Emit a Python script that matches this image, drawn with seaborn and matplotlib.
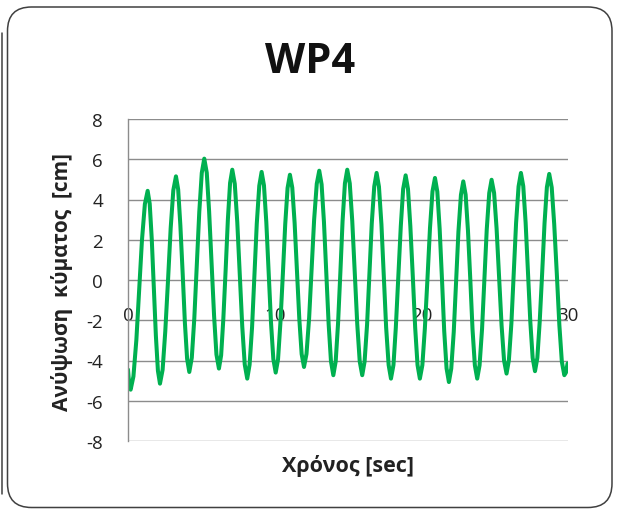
import matplotlib
matplotlib.use("Agg")
import matplotlib.pyplot as plt
from matplotlib.patches import FancyBboxPatch
from matplotlib.lines import Line2D
import seaborn as sns
import pandas as pd

# ---- data ----
time_sec = [
    0.00, 0.06, 0.12, 0.18,
    0.37, 0.57, 0.76, 0.95, 1.15, 1.34,
    1.48, 1.62, 1.76, 1.90, 2.04, 2.18,
    2.36, 2.54, 2.73, 2.91, 3.09, 3.27,
    3.42, 3.57, 3.73, 3.88, 4.03, 4.18,
    4.35, 4.52, 4.69, 4.86, 5.03, 5.20,
    5.37, 5.53, 5.70, 5.87, 6.03, 6.20,
    6.35, 6.50, 6.66, 6.81, 6.96, 7.11,
    7.28, 7.45, 7.62, 7.79, 7.96, 8.13,
    8.29, 8.46, 8.62, 8.78, 8.95, 9.11,
    9.27, 9.43, 9.59, 9.75, 9.91, 10.07,
    10.23, 10.39, 10.56, 10.72, 10.88, 11.04,
    11.20, 11.36, 11.52, 11.68, 11.84, 12.00,
    12.17, 12.35, 12.52, 12.69, 12.87, 13.04,
    13.20, 13.36, 13.52, 13.68, 13.84, 14.00,
    14.16, 14.32, 14.48, 14.63, 14.79, 14.95,
    15.12, 15.29, 15.46, 15.63, 15.80, 15.97,
    16.13, 16.30, 16.46, 16.62, 16.79, 16.95,
    17.11, 17.28, 17.44, 17.60, 17.77, 17.93,
    18.10, 18.26, 18.43, 18.60, 18.76, 18.93,
    19.09, 19.25, 19.42, 19.58, 19.74, 19.90,
    20.07, 20.24, 20.42, 20.59, 20.76, 20.93,
    21.09, 21.25, 21.41, 21.56, 21.72, 21.88,
    22.04, 22.21, 22.37, 22.53, 22.70, 22.86,
    23.02, 23.18, 23.34, 23.49, 23.65, 23.81,
    23.97, 24.14, 24.30, 24.46, 24.63, 24.79,
    24.96, 25.13, 25.30, 25.47, 25.64, 25.81,
    25.97, 26.14, 26.30, 26.46, 26.63, 26.79,
    26.95, 27.11, 27.27, 27.43, 27.59, 27.75,
    27.91, 28.07, 28.24, 28.40, 28.56, 28.72,
    28.89, 29.06, 29.24, 29.41, 29.58, 29.75,
    29.86, 29.97,
]
elevation_cm = [
    -4.45, -5.00, -5.35, -5.45,
    -4.79, -2.98, -0.51, 1.96, 3.77, 4.43,
    3.79, 2.03, -0.36, -2.76, -4.51, -5.15,
    -4.46, -2.57, 0.00, 2.58, 4.46, 5.15,
    4.50, 2.72, 0.29, -2.14, -3.92, -4.57,
    -3.86, -1.92, 0.73, 3.38, 5.32, 6.03,
    5.33, 3.42, 0.81, -1.79, -3.70, -4.40,
    -3.74, -1.93, 0.54, 3.01, 4.82, 5.48,
    4.78, 2.88, 0.29, -2.31, -4.20, -4.90,
    -4.21, -2.33, 0.24, 2.80, 4.68, 5.37,
    4.70, 2.88, 0.38, -2.11, -3.93, -4.60,
    -3.94, -2.14, 0.32, 2.77, 4.57, 5.23,
    4.59, 2.84, 0.45, -1.93, -3.68, -4.32,
    -3.67, -1.88, 0.56, 2.99, 4.78, 5.43,
    4.75, 2.89, 0.35, -2.19, -4.05, -4.73,
    -4.05, -2.18, 0.38, 2.93, 4.80, 5.48,
    4.80, 2.93, 0.37, -2.18, -4.05, -4.73,
    -4.06, -2.22, 0.30, 2.81, 4.65, 5.32,
    4.64, 2.76, 0.21, -2.35, -4.22, -4.90,
    -4.22, -2.37, 0.15, 2.68, 4.52, 5.20,
    4.52, 2.68, 0.15, -2.37, -4.22, -4.90,
    -4.23, -2.41, 0.09, 2.58, 4.40, 5.07,
    4.39, 2.53, 0.00, -2.54, -4.39, -5.07,
    -4.40, -2.58, -0.08, 2.41, 4.23, 4.90,
    4.24, 2.45, 0.00, -2.45, -4.24, -4.90,
    -4.24, -2.43, 0.04, 2.51, 4.32, 4.98,
    4.33, 2.57, 0.16, -2.24, -4.00, -4.65,
    -3.98, -2.16, 0.34, 2.83, 4.65, 5.32,
    4.66, 2.86, 0.39, -2.07, -3.87, -4.53,
    -3.87, -2.08, 0.37, 2.82, 4.61, 5.27,
    4.60, 2.77, 0.27, -2.23, -4.06, -4.73,
    -4.60, -4.15,
]
x_ticks = [0, 10, 20, 30]
y_ticks = [-8, -6, -4, -2, 0, 2, 4, 6, 8]
title_text = "WP4"
x_label = "Χρόνος [sec]"
y_label = "Ανύψωση  κύματος  [cm]"

n = min(len(time_sec), len(elevation_cm))
df = pd.DataFrame({"t": time_sec[:n], "h": elevation_cm[:n]})

# ---- style ----
sns.set_style("white")
plt.rcParams["font.family"] = ["Open Sans", "DejaVu Sans"]

W, H, DPI = 620, 510, 100
fig = plt.figure(figsize=(W / DPI, H / DPI), dpi=DPI)
ax = fig.add_axes([128 / W, 1 - 442 / H, 440 / W, 322 / H])

sns.lineplot(data=df, x="t", y="h", ax=ax, color="#00B050", linewidth=2.9,
             estimator=None, sort=False, solid_joinstyle="round",
             solid_capstyle="round")

ax.set_xlim(0, 30)
ax.set_ylim(-8, 8)
ax.set_xticks(x_ticks)
ax.set_yticks(y_ticks)
ax.set_xticklabels([str(v) for v in x_ticks])
ax.set_yticklabels([str(v) for v in y_ticks])

grid_c = "#8c8c8c"
ax.yaxis.grid(True, color=grid_c, linewidth=1.0)
ax.xaxis.grid(False)
ax.set_axisbelow(True)
for side in ["top", "right"]:
    ax.spines[side].set_visible(False)
ax.spines["bottom"].set_position(("data", 0))
ax.spines["bottom"].set_visible(False)
ax.spines["left"].set_color(grid_c)
ax.spines["left"].set_linewidth(1.0)

ax.tick_params(axis="x", length=0, pad=19, labelsize=13.5, labelcolor="#222222")
ax.tick_params(axis="y", length=0, pad=18, labelsize=13.5, labelcolor="#222222")

ax.set_xlabel(x_label, fontsize=15.5, fontweight="bold", color="#222222")
ax.xaxis.set_label_coords(0.5, -0.04)
ax.set_ylabel(y_label, fontsize=15, fontweight="bold", color="#222222")
ax.yaxis.set_label_coords(-0.125, 0.497)

fig.text(310 / W, 1 - 72.7 / H, title_text, ha="center", va="baseline",
         fontsize=30, fontweight="bold", color="#111111")

# rounded chart border
box = FancyBboxPatch((0.075, 0.015), 6.12 - 0.075, 5.02 - 0.015,
                     boxstyle="round,pad=0,rounding_size=0.24",
                     transform=fig.dpi_scale_trans, facecolor="none",
                     edgecolor="#404040", linewidth=1.1, zorder=10)
fig.patches.append(box)
fig.lines.append(Line2D([0.015, 0.015], [0.15, 4.76],
                        transform=fig.dpi_scale_trans, color="#404040",
                        linewidth=1.1))

fig.savefig("out.png", dpi=DPI)
